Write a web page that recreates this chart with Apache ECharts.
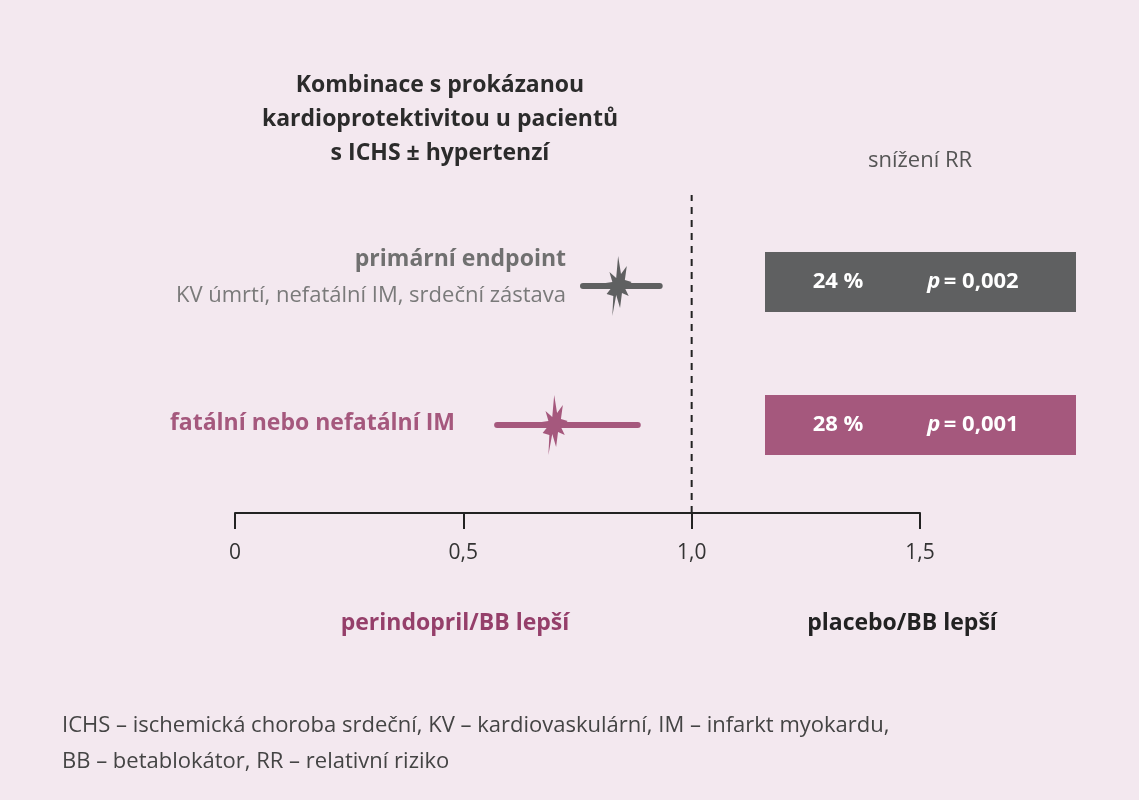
<!DOCTYPE html>
<html><head><meta charset="utf-8">
<script src="https://cdn.jsdelivr.net/npm/echarts@6/dist/echarts.min.js"></script>
<style>html,body{margin:0;background:#f3e8ef;}#c{width:1139px;height:800px;}</style>
</head><body><div id="c"></div>
<script>
const rowNames = ['primární endpoint', 'fatální nebo nefatální IM'];
const rowY = [7.14, 2.77];
const estimates = [0.84, 0.70];
const ciLow = [0.762, 0.574];
const ciHigh = [0.93, 0.882];
const reductions = ['24 %', '28 %'];
const pValues = ['0,002', '0,001'];
const tickLabels = ['0', '0,5', '1,0', '1,5'];
const colors = ['#5f6061', '#a5587d'];
const F = 'Open Sans, Noto Sans, sans-serif';

const starPath = 'path://M0,-30 L3,-12 L9,-20 L7,-6 L14,-4 L7,2 L11,10 L4,7 L2,22 L-2,9 L-6,30 L-5,10 L-12,8 L-7,2 L-13,-3 L-6,-4 L-9,-14 L-2,-8 Z';

const chart = echarts.init(document.getElementById('c'));
const series = [];
rowNames.forEach((n, i) => {
  series.push({type: 'line', data: [[ciLow[i], rowY[i]], [ciHigh[i], rowY[i]]], symbol: 'none',
    lineStyle: {color: colors[i], width: 6, cap: 'round'}, silent: true, z: 2});
  series.push({type: 'scatter', data: [[estimates[i], rowY[i]]], symbol: starPath, symbolSize: [26, 60],
    itemStyle: {color: colors[i], opacity: 1}, z: 3});
});
series.push({type: 'line', data: [[1, 0], [1, 10]], symbol: 'none',
  lineStyle: {color: '#222', width: 2, type: [7, 6]}, z: 1});

const boxTop = [252, 395];
const graphic = [
  {type: 'text', left: 'center', style: {text: 'Kombinace s prokázanou\nkardioprotektivitou u pacientů\ns ICHS ± hypertenzí', x: 0, font: 'bold 23px ' + F, fill: '#2b2b2b', align: 'center', lineHeight: 34}, position: [440, 68], left: null},
  {type: 'text', style: {text: 'snížení RR', x: 920, y: 150, font: '22px ' + F, fill: '#555', align: 'center'}},
  {type: 'text', style: {text: 'primární endpoint', x: 566, y: 248, font: 'bold 23px ' + F, fill: '#707070', align: 'right'}},
  {type: 'text', style: {text: 'KV úmrtí, nefatální IM, srdeční zástava', x: 566, y: 285, font: '22px ' + F, fill: '#7a7a7a', align: 'right'}},
  {type: 'text', style: {text: 'fatální nebo nefatální IM', x: 455, y: 412, font: 'bold 23px ' + F, fill: colors[1], align: 'right'}},
  {type: 'text', style: {text: 'perindopril/BB lepší', x: 455, y: 612, font: 'bold 23px ' + F, fill: '#953f6a', align: 'center'}},
  {type: 'text', style: {text: 'placebo/BB lepší', x: 902, y: 612, font: 'bold 23px ' + F, fill: '#222', align: 'center'}},
  {type: 'text', style: {text: 'ICHS – ischemická choroba srdeční, KV – kardiovaskulární, IM – infarkt myokardu,\nBB – betablokátor, RR – relativní riziko', x: 62, y: 708, font: '22px ' + F, fill: '#444', lineHeight: 36}}
];
rowNames.forEach((n, i) => {
  graphic.push({type: 'rect', shape: {x: 765, y: boxTop[i], width: 311, height: 60}, style: {fill: colors[i]}});
  graphic.push({type: 'text', style: {text: reductions[i], x: 838, y: boxTop[i] + 30, font: 'bold 22px ' + F, fill: '#fff', align: 'center', verticalAlign: 'middle'}});
  graphic.push({type: 'text', style: {rich: {i: {font: 'italic bold 22px ' + F, fill: '#fff'}, b: {font: 'bold 22px ' + F, fill: '#fff'}},
    text: '{i|p} {b|= ' + pValues[i] + '}', x: 973, y: boxTop[i] + 30, align: 'center', verticalAlign: 'middle'}});
});

chart.setOption({
  backgroundColor: '#f3e8ef',
  animation: false,
  grid: {left: 235, top: 195, width: 685, height: 318},
  xAxis: {type: 'value', min: 0, max: 1.5, interval: 0.5, position: 'bottom',
    axisLine: {lineStyle: {color: '#222', width: 2}}, axisTick: {show: true, length: 16, lineStyle: {color: '#222', width: 2}},
    axisLabel: {margin: 30, fontSize: 21, fontFamily: F, color: '#333', formatter: v => tickLabels[Math.round(v / 0.5)]},
    splitLine: {show: false}},
  yAxis: {type: 'value', min: 0, max: 10, show: false},
  series: series,
  graphic: graphic
});
</script></body></html>
